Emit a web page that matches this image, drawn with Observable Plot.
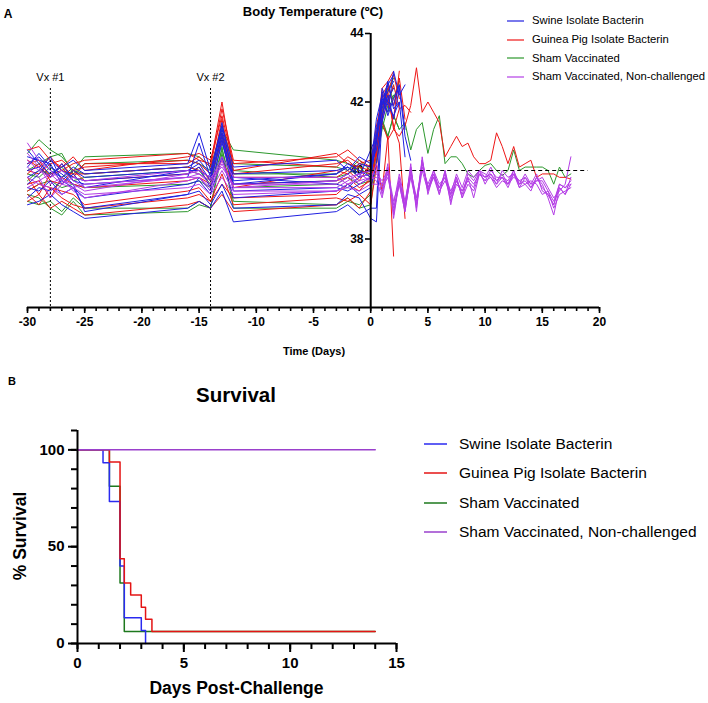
<!DOCTYPE html>
<html><head><meta charset="utf-8">
<script src="https://cdn.jsdelivr.net/npm/d3@7"></script>
<script src="https://cdn.jsdelivr.net/npm/@observablehq/plot@0.6"></script>
<style>
body{margin:0;background:#fff;}
#c{position:relative;width:708px;height:703px;overflow:hidden;font-family:"Liberation Sans",Arial,sans-serif;background:#fff;color:#000;}
.t{position:absolute;white-space:nowrap;transform:translate(-50%,-50%);line-height:1;}
.p{position:absolute;left:0;}
.leg{position:absolute;white-space:nowrap;line-height:1;display:flex;align-items:center;}
</style></head><body><div id="c"></div>
<script>
// ---------- groups ----------
const groups = ["Swine Isolate Bacterin","Guinea Pig Isolate Bacterin","Sham Vaccinated","Sham Vaccinated, Non-challenged"];
const colorsA = ["#2020e0","#ee1616","#2c982c","#b43ee6"];
const colorsB = ["#2a2af0","#e41414","#1d781d","#9a40cc"];

// ---------- Panel A: body temperature ----------
const preDays = [-30,-29,-28,-27,-26,-25,-16,-15,-14,-13,-12,-3,-2,-1,0];
const postDays = [0.5,1,1.5,2,2.5,3,3.5,4,4.5,5,5.5,6,6.5,7,7.5,8,8.5,9,9.5,10,10.5,11,11.5,12,12.5,13,13.5,14,14.5,15,15.5,16,16.5,17,17.5];
const vxDays = [-28,-14];
const vxLabels = ["Vx #1","Vx #2"];
const xTicksA = [-30,-25,-20,-15,-10,-5,0,5,10,15,20];
const xMinorA = [-30,-29,-28,-27,-26,-25,-24,-23,-22,-21,-20,-19,-18,-17,-16,-15,-14,-13,-12,-11,-10,-9,-8,-7,-6,-5,-4,-3,-2,-1,0,1,2,3,4,5,6,7,8,9,10,11,12,13,14,15,16,17,18,19,20];
const yTicksA = [38,40,42,44];
const baselineTemp = 40;

const swinePre = [
 [40.2,40.4,40.0,39.8,40.1,39.9,40.1,40.3,39.9,41.2,39.9,40.0,40.1,39.9,40.0],
 [40.0,40.1,39.8,40.2,39.7,39.6,39.8,40.8,39.8,41.4,39.7,39.9,40.2,40.0,39.8],
 [40.4,40.3,40.2,39.6,39.9,39.5,40.0,40.2,39.7,41.0,39.6,39.7,39.9,40.2,40.1],
 [39.6,39.9,40.3,40.0,39.8,39.7,39.9,40.1,39.5,40.8,39.8,39.6,39.5,39.8,40.6],
 [39.2,39.5,39.4,39.7,39.5,38.9,39.3,39.4,39.0,39.6,38.9,39.0,39.3,39.2,38.6],
 [39.0,39.1,39.3,39.0,38.8,38.6,38.9,39.1,38.9,39.4,38.5,38.8,39.0,38.7,38.9],
 [40.6,40.2,39.9,40.1,40.3,40.0,40.2,41.1,40.0,41.3,40.1,40.3,40.0,40.4,40.2],
 [39.8,40.0,40.4,39.7,40.0,39.8,40.0,40.0,39.8,41.1,39.6,39.9,40.1,39.8,39.9],
 [39.5,39.4,39.7,39.3,39.5,39.2,39.6,39.7,39.3,40.4,39.2,39.4,39.6,39.3,39.5],
 [40.1,40.5,40.1,39.9,39.6,38.8,39.3,39.8,39.4,40.9,39.4,39.5,39.4,39.6,39.8]
];
const swinePost = [
 [41.2,42.0,42.3,42.6],
 [40.9,41.8,42.5,42.8],
 [41.5,42.2,41.6,42.1,42.5,41.2],
 [41.0,41.9,42.6],
 [38.5,41.6,42.2,41.5,42.4,41.0,40.3],
 [38.9,42.4,42.0,41.9,42.5],
 [40.6,41.5,42.6,41.8,42.0],
 [40.8,42.1,41.7,42.9,42.2,42.5],
 [40.2,41.4,42.1,42.4],
 [41.0,42.3,41.9,41.6,42.0,40.4]
];
const guineaPre = [
 [40.3,40.1,40.4,40.0,40.2,40.3,40.5,40.3,40.2,42.0,40.0,40.5,40.2,40.1,40.0],
 [40.0,39.9,40.2,40.3,40.0,40.1,40.3,40.2,39.9,41.5,39.9,40.2,40.3,40.0,39.9],
 [39.8,39.3,39.9,40.0,39.9,39.9,40.1,40.0,39.8,40.9,39.5,40.0,39.9,40.2,40.1],
 [39.4,39.6,39.5,39.4,39.3,39.0,39.4,39.5,39.1,39.6,39.2,39.3,39.6,39.4,39.8],
 [39.1,39.3,38.9,39.1,38.9,38.7,39.0,39.1,38.9,39.3,38.8,39.0,39.2,38.9,39.4],
 [40.6,40.7,40.3,40.1,40.4,40.0,40.4,40.5,40.3,41.6,40.2,40.4,40.6,40.3,40.1],
 [39.6,39.7,39.2,39.8,39.6,39.5,39.7,39.8,39.6,40.3,39.6,39.7,39.8,39.5,39.7],
 [39.9,40.2,39.7,39.6,40.0,39.7,39.9,40.1,39.7,41.1,39.8,39.8,40.0,39.7,40.2],
 [39.3,39.0,39.5,39.2,39.0,38.9,39.2,39.3,39.1,39.9,39.0,39.2,39.1,39.3,39.0],
 [40.2,40.3,39.8,40.2,39.8,40.2,40.2,40.4,40.1,41.8,40.3,40.1,40.4,40.2,40.3]
];
const guineaPost = [
 [41.0,42.4,42.6,42.9],
 [40.8,42.2,42.0,41.5,42.9],
 [40.6,41.4,40.9,41.2,41.8,41.9,41.7],
 [40.2,39.4,41.0,37.5],
 [40.5,41.6,42.2,41.3,40.8,38.6],
 [40.4,41.9,42.3,42.8,42.1],
 [40.6,41.8,42.3,41.2,41.0,41.3,41.9,43.0,41.7,42.0,41.7,41.4,40.4,40.7,41.0,40.7,40.8,40.4,40.2,40.2,40.3,41.1,40.7,40.2,40.7,40.1,40.2,40.3,39.8,39.9,39.9,39.9,39.8,39.8,39.75],
 [41.3,42.1,42.4],
 [40.1,41.5,42.0,42.5,41.8],
 [40.9,42.2,42.5,41.9,42.7,41.5]
];
const shamPre = [
 [40.5,40.9,40.6,40.4,40.0,40.4,40.5,40.4,40.1,41.2,40.6,40.3,40.2,40.0,39.9],
 [39.1,39.0,39.1,38.8,39.2,38.9,38.9,39.1,38.9,40.5,39.1,39.0,39.2,38.9,39.0],
 [39.3,39.2,38.9,38.7,39.1,38.7,38.8,39.0,38.9,40.7,38.9,38.9,39.1,39.0,39.3],
 [40.0,40.2,40.4,40.5,39.9,40.2,40.3,40.2,40.0,41.3,40.2,40.1,40.0,40.3,40.0],
 [39.9,39.8,40.1,39.8,40.0,39.9,40.1,40.0,39.6,41.0,39.9,39.9,40.1,39.8,39.9],
 [39.7,40.0,39.9,40.1,39.7,39.8,40.0,39.9,39.7,41.1,40.0,39.8,39.9,40.1,39.8],
 [39.4,39.6,39.7,39.5,39.6,39.5,39.6,39.7,39.5,40.6,39.5,39.6,39.8,39.6,39.7]
];
const shamPost = [
 [40.8,41.6,42.3,42.7],
 [40.3,41.2,41.9,42.5],
 [40.6,41.5,41.0],
 [40.9,42.0,41.7,42.2],
 [40.5,41.4,41.0,41.6,41.2,41.4,40.6,41.2,41.4,40.5,41.2,41.6,40.2,40.4,40.4,40.2,39.9,39.8,40.0,40.15,40.2,40.0,39.85,40.0,40.6,40.0,40.1,40.1,40.1,40.1,40.0,39.6,40.1,39.8,39.9],
 [40.5,41.7,42.4,42.1,42.6],
 [40.2,41.3,41.0,41.6,41.2]
];
const nonPre = [
 [40.8,40.3,40.0,39.7,39.6,39.4,39.9,40.0,39.8,40.1,39.6,39.6,39.8,39.9,40.0],
 [40.5,40.1,39.6,39.8,39.4,39.2,39.7,39.8,39.4,40.0,39.4,39.4,39.6,39.7,39.8],
 [39.8,39.6,39.5,39.3,39.5,39.6,39.8,39.9,39.6,40.3,39.5,39.5,39.7,39.9,39.7],
 [40.1,39.8,39.2,39.6,39.5,39.3,39.5,39.6,39.3,39.8,39.3,39.4,39.5,39.4,39.6],
 [39.5,39.7,39.9,39.6,39.8,39.7,40.0,39.9,39.7,40.4,39.8,39.8,39.6,39.8,39.9],
 [40.3,40.0,39.8,40.0,39.7,39.5,39.8,39.8,39.5,40.2,39.5,39.7,39.9,39.6,39.8]
];
const nonPost = [
 [40.0,39.3,40.1,38.7,39.8,38.9,40.2,38.8,40.4,39.3,39.9,39.5,39.9,39.2,39.7,39.3,39.9,39.7,40.0,39.8,40.1,39.7,39.9,39.6,40.0,39.5,39.8,39.6,39.9,39.4,39.3,39.0,39.6,39.5,39.7],
 [39.8,39.6,39.9,38.9,39.6,38.8,39.9,39.0,40.2,39.5,39.8,39.3,40.0,39.0,39.8,39.2,39.6,39.4,39.9,39.7,39.8,39.5,39.7,39.6,39.9,39.7,39.6,39.4,39.8,39.6,39.2,38.7,39.5,39.3,39.8],
 [40.2,39.5,39.8,39.0,39.9,39.1,40.0,39.2,40.1,39.6,40.0,39.4,39.7,39.3,39.9,39.5,40.0,39.8,40.0,39.9,39.8,39.6,40.0,39.8,39.9,39.6,39.7,39.5,39.7,39.8,39.5,39.2,39.4,39.6,40.4],
 [39.6,39.4,40.2,38.6,39.7,38.9,39.8,39.0,40.0,39.4,39.8,39.5,39.8,39.1,39.6,39.4,39.8,39.2,39.9,39.8,39.9,39.6,39.8,39.5,39.9,39.5,39.6,39.7,39.6,39.3,39.4,38.9,39.3,39.4,39.5],
 [39.9,39.7,40.0,39.1,39.7,39.0,40.1,38.9,40.3,39.4,40.0,39.6,39.8,39.4,39.8,39.2,39.8,39.6,39.9,39.7,40.0,39.8,39.8,39.7,40.0,39.6,39.9,39.6,39.7,39.7,39.4,39.1,39.6,39.5,39.6],
 [39.7,39.2,40.0,38.8,39.6,38.8,40.0,39.1,40.3,39.5,39.9,39.3,40.0,39.3,39.7,39.4,39.7,39.5,40.0,39.6,39.9,39.7,39.8,39.6,39.8,39.7,39.8,39.5,39.8,39.5,39.3,39.0,39.5,39.3,39.6]
];

// ---------- Panel B: survival ----------
const swineSurvDays = [0,1.2,1.5,2.0,2.2,3.0,3.2];
const swineSurv     = [100,93.3,73.3,40,13.3,6.7,0];
const guineaSurvDays = [0,1.5,2.0,2.2,2.5,3.0,3.2,3.5,14];
const guineaSurv     = [100,93.75,43.75,31.25,25,18.75,12.5,6.25,6.25];
const shamSurvDays = [0,1.5,2.0,2.2,14];
const shamSurv     = [100,81.25,31.25,6.25,6.25];
const nonSurvDays = [0,14];
const nonSurv     = [100,100];
const xTicksB = [0,5,10,15];
const xMinorB = [0,1,2,3,4,5,6,7,8,9,10,11,12,13,14,15];
const yTicksB = [0,50,100];
const yMinorB = [0,10,20,30,40,50,60,70,80,90,100,110];

// ---------- build tables ----------
const tempRows = [];
function addAnimals(gi, pre, post) {
  pre.forEach((vals, i) => {
    const id = groups[gi] + "#" + i;
    vals.forEach((v, j) => tempRows.push({id, group: groups[gi], day: preDays[j], temp: v}));
    post[i].forEach((v, j) => tempRows.push({id, group: groups[gi], day: postDays[j], temp: v}));
  });
}
addAnimals(2, shamPre, shamPost);
addAnimals(1, guineaPre, guineaPost);
addAnimals(0, swinePre, swinePost);
addAnimals(3, nonPre, nonPost);

const survRows = [];
function addSurv(gi, days, vals) { days.forEach((d, j) => survRows.push({group: groups[gi], day: d, pct: vals[j]})); }
addSurv(2, shamSurvDays, shamSurv);
addSurv(0, swineSurvDays, swineSurv);
addSurv(1, guineaSurvDays, guineaSurv);
addSurv(3, nonSurvDays, nonSurv);

const FONT = '"Liberation Sans", Arial, sans-serif';
const plainNum = d => String(d);
const c = document.getElementById("c");

// ---------- Plot A ----------
const plotA = Plot.plot({
  width: 708, height: 340,
  marginLeft: 27, marginRight: 109, marginTop: 33, marginBottom: 33,
  x: {domain: [-30, 20]},
  y: {domain: [36, 44]},
  color: {domain: groups, range: colorsA},
  style: {background: "transparent", fontFamily: FONT, color: "#000", overflow: "visible"},
  marks: [
    Plot.axisX({ticks: xMinorA, tickSize: 4, strokeWidth: 1.6, fill: "none", label: null}),
    Plot.axisX({ticks: xTicksA, tickSize: 6, strokeWidth: 1.6, tickPadding: 4, tickFormat: plainNum, fontSize: 12, fontWeight: "bold", label: null}),
    Plot.axisY({ticks: yTicksA, tickSize: 5, tickPadding: 2, dx: 343, strokeWidth: 1.6, tickFormat: plainNum, fontSize: 12, fontWeight: "bold", label: null}),
    Plot.ruleX(vxDays, {insetTop: 55, stroke: "#000", strokeWidth: 1, strokeDasharray: "2,2"}),
    Plot.text(vxDays, {x: d => d, text: (d, i) => vxLabels[i], frameAnchor: "top", dy: 40, fontSize: 11}),
    Plot.line(tempRows, {x: "day", y: "temp", z: "id", stroke: "group", strokeWidth: 1}),
    Plot.ruleY([baselineTemp], {x1: 0, x2: 19, stroke: "#000", strokeWidth: 1, strokeDasharray: "4,3"}),
    Plot.ruleX([0], {stroke: "#000", strokeWidth: 2}),
    Plot.ruleY([36], {stroke: "#000", strokeWidth: 2})
  ]
});
plotA.classList.add("p");
plotA.style.top = "0px";
c.appendChild(plotA);

// ---------- Plot B ----------
const plotB = Plot.plot({
  width: 708, height: 343,
  marginLeft: 77, marginRight: 312, marginTop: 70, marginBottom: 60,
  x: {domain: [0, 15]},
  y: {domain: [0, 110]},
  color: {domain: groups, range: colorsB},
  style: {background: "transparent", fontFamily: FONT, color: "#000", overflow: "visible"},
  marks: [
    Plot.axisX({ticks: xMinorB, tickSize: 6, strokeWidth: 2, fill: "none", label: null}),
    Plot.axisX({ticks: xTicksB, tickSize: 9, strokeWidth: 2, tickPadding: 5, tickFormat: plainNum, fontSize: 15, fontWeight: "bold", label: null}),
    Plot.axisY({ticks: yMinorB, tickSize: 6, strokeWidth: 2, fill: "none", label: null}),
    Plot.axisY({ticks: yTicksB, tickSize: 9, strokeWidth: 2, tickPadding: 4, tickFormat: plainNum, fontSize: 15, fontWeight: "bold", label: null}),
    Plot.line(survRows, {x: "day", y: "pct", z: "group", stroke: "group", curve: "step-after", strokeWidth: 1.5}),
    Plot.ruleX([0], {stroke: "#000", strokeWidth: 2}),
    Plot.ruleY([0], {stroke: "#000", strokeWidth: 2})
  ]
});
plotB.classList.add("p");
plotB.style.top = "360px";
c.appendChild(plotB);

// ---------- HTML texts ----------
function label(txt, cx, cy, css) {
  const d = document.createElement("div");
  d.className = "t";
  d.textContent = txt;
  d.style.left = cx + "px";
  d.style.top = cy + "px";
  Object.assign(d.style, css || {});
  c.appendChild(d);
  return d;
}
label("A", 8, 14, {fontSize: "12px", fontWeight: "bold"});
label("Body Temperature (ºC)", 313, 11, {fontSize: "13px", fontWeight: "bold"});
label("Time (Days)", 314, 351, {fontSize: "11px", fontWeight: "bold"});
label("B", 12, 381, {fontSize: "11px", fontWeight: "bold"});
label("Survival", 236, 395, {fontSize: "20.5px", fontWeight: "bold"});
label("% Survival", 21, 536, {fontSize: "17.5px", fontWeight: "bold", transform: "translate(-50%,-50%) rotate(-90deg)"});
label("Days Post-Challenge", 236.5, 689, {fontSize: "17.5px", fontWeight: "bold"});

function legend(x, ys, swW, gap, fontSize, colors, strokeW) {
  groups.forEach((g, i) => {
    const d = document.createElement("div");
    d.className = "leg";
    d.style.left = x + "px";
    d.style.top = (ys[i] - fontSize) + "px";
    d.style.height = (2 * fontSize) + "px";
    d.style.fontSize = fontSize + "px";
    d.innerHTML = `<svg width="${swW}" height="6" style="margin-right:${gap}px"><line x1="0" x2="${swW}" y1="3" y2="3" stroke="${colors[i]}" stroke-width="${strokeW}"/></svg><span></span>`;
    d.querySelector("span").textContent = g;
    c.appendChild(d);
  });
}
legend(507, [21, 40, 58.5, 77], 17, 8, 11.3, colorsA, 1.2);
legend(424, [443.5, 472.5, 502.5, 532], 23, 12, 15.5, colorsB, 1.5);
</script></body></html>
